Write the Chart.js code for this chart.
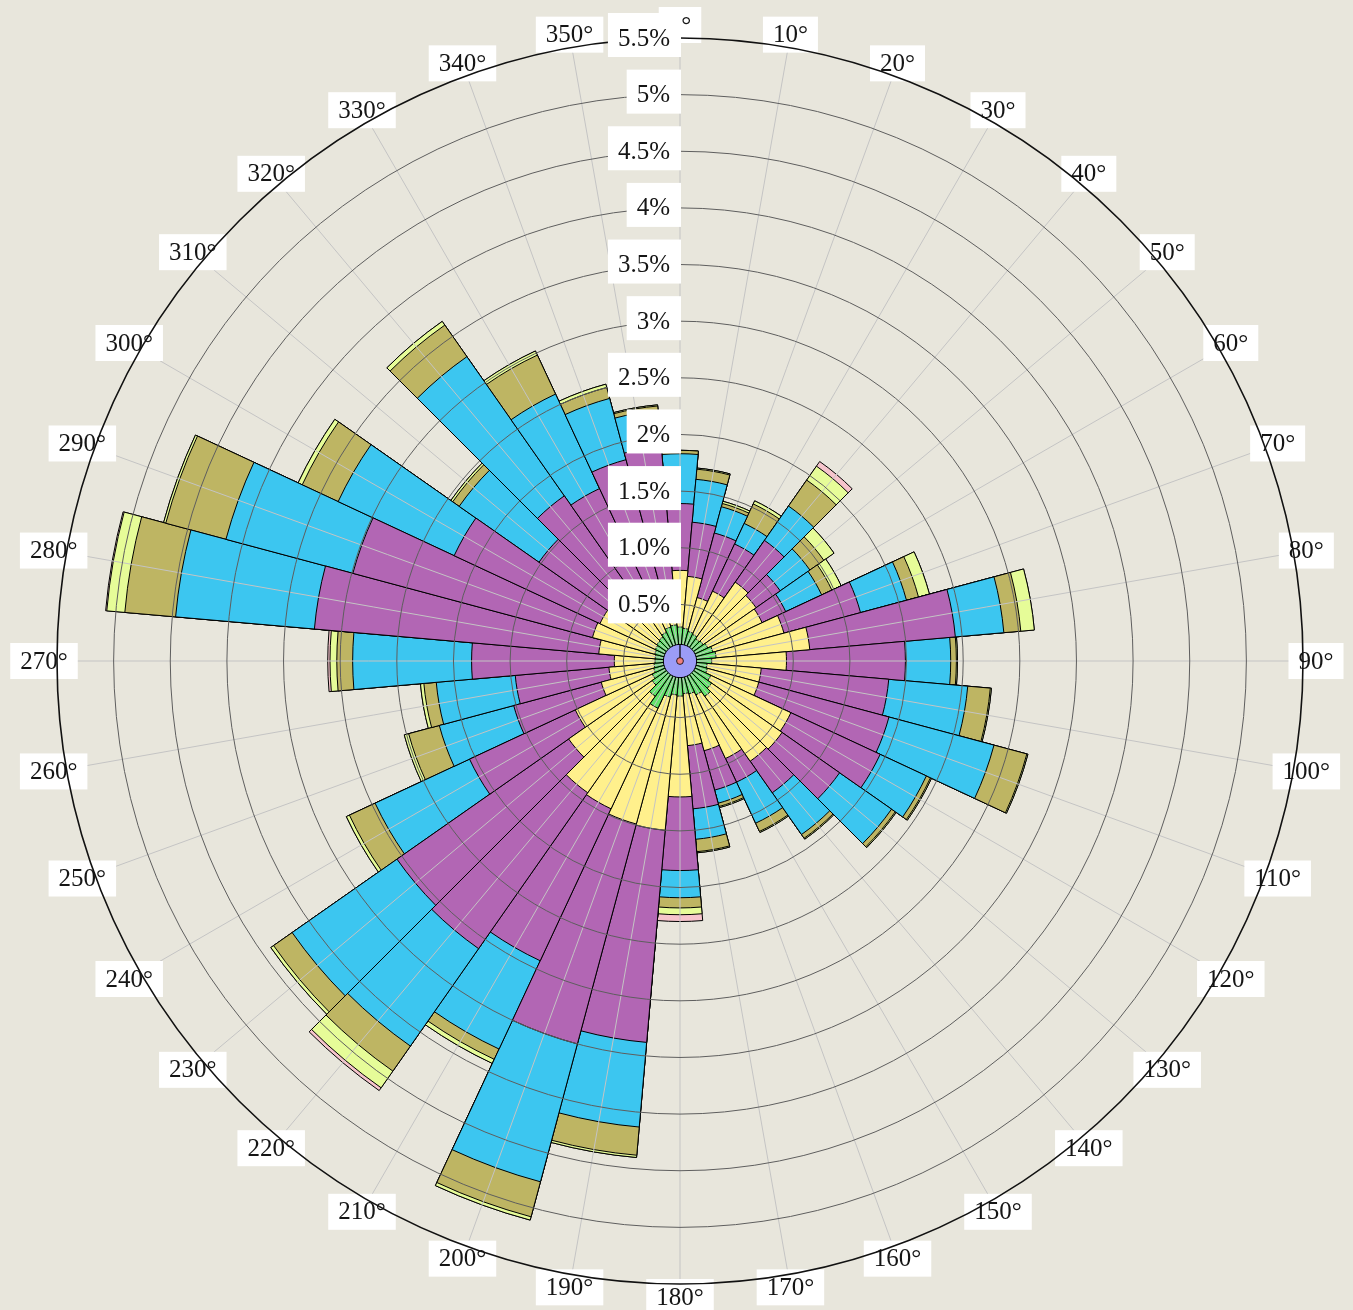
<!DOCTYPE html>
<html>
<head>
<meta charset="utf-8">
<title>Wind rose</title>
<script src="https://cdn.jsdelivr.net/npm/chart.js@4.4.1/dist/chart.umd.min.js"></script>
<style>
  html, body { margin: 0; padding: 0; background: #e8e6dc; }
  canvas { display: block; }
</style>
</head>
<body>
<canvas id="rose" width="1353" height="1310"></canvas>
<script>
// direction sectors, 10° wide, centred on these bearings
const directions = [0, 10, 20, 30, 40, 50, 60, 70, 80, 90, 100, 110, 120, 130, 140, 150, 160, 170,
  180, 190, 200, 210, 220, 230, 240, 250, 260, 270, 280, 290, 300, 310, 320, 330, 340, 350];

// frequency (%) per speed class, one value per direction
const speed0 = [0.30, 0.29, 0.27, 0.26, 0.24, 0.25, 0.27, 0.30, 0.32, 0.28, 0.24, 0.25, 0.30, 0.34, 0.38, 0.33, 0.30, 0.29,
  0.31, 0.30, 0.33, 0.46, 0.38, 0.30, 0.27, 0.24, 0.23, 0.22, 0.22, 0.23, 0.24, 0.25, 0.26, 0.28, 0.31, 0.32];
const speed1 = [0.50, 0.46, 0.31, 0.42, 0.61, 0.57, 0.53, 0.65, 0.83, 0.66, 0.48, 0.47, 0.78, 0.76, 0.70, 0.62, 0.52, 0.46,
  0.89, 1.20, 1.16, 0.98, 1.04, 0.90, 0.75, 0.48, 0.40, 0.36, 0.50, 0.57, 0.54, 0.35, 0.24, 0.24, 0.29, 0.38];
const speed2 = [0.59, 0.48, 0.59, 0.46, 0.45, 0.26, 0.23, 0.70, 1.29, 1.05, 1.13, 1.19, 0.87, 0.62, 0.34, 0.23, 0.36, 0.56,
  0.65, 1.88, 2.01, 1.48, 1.68, 1.85, 1.03, 0.80, 0.83, 1.26, 2.52, 2.19, 1.42, 0.92, 1.28, 1.16, 1.24, 1.20];
const speed3 = [0.44, 0.38, 0.24, 0.20, 0.37, 0.32, 0.35, 0.42, 0.43, 0.40, 0.70, 0.96, 0.45, 0.56, 0.45, 0.40, 0.12, 0.27,
  0.24, 0.75, 1.26, 0.86, 1.05, 1.13, 0.92, 0.68, 0.70, 1.05, 1.23, 1.16, 1.13, 0.86, 1.50, 0.92, 0.56, 0.32];
const speed4 = [0.03, 0.09, 0.03, 0.19, 0.28, 0.15, 0.10, 0.11, 0.15, 0.05, 0.20, 0.30, 0.04, 0.04, 0.04, 0.08, 0.03, 0.11,
  0.09, 0.25, 0.32, 0.10, 0.27, 0.20, 0.25, 0.28, 0.11, 0.14, 0.45, 0.55, 0.35, 0.07, 0.34, 0.38, 0.10, 0.04];
const speed5 = [0.00, 0.01, 0.02, 0.03, 0.15, 0.11, 0.09, 0.10, 0.12, 0.01, 0.01, 0.01, 0.01, 0.01, 0.01, 0.01, 0.01, 0.01,
  0.06, 0.02, 0.03, 0.04, 0.18, 0.03, 0.03, 0.04, 0.03, 0.06, 0.16, 0.02, 0.04, 0.02, 0.04, 0.04, 0.03, 0.01];
const speed6 = [0, 0, 0, 0, 0.05, 0, 0, 0, 0, 0, 0, 0, 0, 0, 0, 0, 0, 0,
  0.06, 0, 0, 0, 0.03, 0, 0, 0, 0, 0.02, 0.01, 0, 0, 0, 0, 0, 0, 0];

const speedClasses = ['0-1 m/s', '1-2 m/s', '2-4 m/s', '4-6 m/s', '6-8 m/s', '8-10 m/s', '>10 m/s'];
const speedColors = ['#62e46a', '#fff08c', '#b266b4', '#3cc6f0', '#beb563', '#e6fc98', '#f6c4cc'];
const calmShare = 0.147;

const tickLabels = ['0%', '0.5%', '1.0%', '1.5%', '2%', '2.5%', '3%', '3.5%', '4%', '4.5%', '5%', '5.5%'];

// stack the classes: each ring is drawn from the centre out to the running total,
// the innermost dataset is painted last so it sits on top
const series = [speed0, speed1, speed2, speed3, speed4, speed5, speed6];
const running = directions.map(() => 0);
const datasets = series.map((vals, s) => {
  vals.forEach((v, i) => { running[i] += v; });
  return {
    label: speedClasses[s],
    data: running.map(v => +v.toFixed(3)),
    backgroundColor: speedColors[s],
    borderColor: '#000',
    borderWidth: 1
  };
});

const labelFont = '25px "Liberation Serif", "DejaVu Serif", serif';
const halfSector = Math.PI / 36;

const roseDecor = {
  id: 'roseDecor',
  afterDatasetsDraw(chart) {
    const r = chart.scales.r;
    const ctx = chart.ctx;
    ctx.save();

    // spokes through the middle of each sector
    ctx.strokeStyle = '#c4c4c4';
    ctx.lineWidth = 1;
    directions.forEach((d, i) => {
      const p = r.getPointPosition(i, r.drawingArea, halfSector);
      ctx.beginPath();
      ctx.moveTo(r.xCenter, r.yCenter);
      ctx.lineTo(p.x, p.y);
      ctx.stroke();
    });

    // calm disc
    const rc = r.getDistanceFromCenterForValue(calmShare);
    ctx.beginPath();
    ctx.arc(r.xCenter, r.yCenter, rc, 0, Math.PI * 2);
    ctx.fillStyle = '#9b9cf6';
    ctx.fill();
    ctx.strokeStyle = '#000';
    ctx.lineWidth = 1;
    ctx.stroke();
    ctx.beginPath();
    ctx.moveTo(r.xCenter, r.yCenter);
    ctx.lineTo(r.xCenter, r.yCenter - rc);
    ctx.lineWidth = 1.2;
    ctx.stroke();
    ctx.beginPath();
    ctx.arc(r.xCenter, r.yCenter, 3.4, 0, Math.PI * 2);
    ctx.fillStyle = '#f08080';
    ctx.fill();
    ctx.lineWidth = 0.8;
    ctx.stroke();

    // bearing labels on white boxes
    ctx.font = labelFont;
    ctx.textAlign = 'center';
    ctx.textBaseline = 'middle';
    directions.forEach((d, i) => {
      const text = d + '°';
      const p = r.getPointPosition(i, r.drawingArea + 13, halfSector);
      const w = ctx.measureText(text).width + 20;
      ctx.fillStyle = '#fff';
      ctx.fillRect(p.x - w / 2, p.y - 18, w, 36);
      ctx.fillStyle = '#151515';
      ctx.fillText(text, p.x, p.y + 1);
    });
    ctx.restore();
  },
  afterDraw(chart) {
    // percentage labels up the north spoke, boxes right-aligned on it
    const r = chart.scales.r;
    const ctx = chart.ctx;
    ctx.save();
    ctx.font = labelFont;
    ctx.textAlign = 'right';
    ctx.textBaseline = 'middle';
    r.ticks.forEach(t => {
      if (t.value <= 0) return;
      const y = r.yCenter - r.getDistanceFromCenterForValue(t.value);
      const w = ctx.measureText(t.label).width + 21;
      ctx.fillStyle = '#fff';
      ctx.fillRect(r.xCenter + 1 - w, y - 25, w, 44);
      ctx.fillStyle = '#151515';
      ctx.fillText(t.label, r.xCenter - 10, y + 1);
    });
    ctx.restore();
  }
};

new Chart(document.getElementById('rose'), {
  type: 'polarArea',
  data: { labels: directions.map(String), datasets },
  options: {
    responsive: false,
    animation: false,
    events: [],
    layout: { padding: { left: 57, right: 50, top: 38, bottom: 26 } },
    plugins: { legend: { display: false }, tooltip: { enabled: false } },
    scales: {
      r: {
        min: 0,
        max: 5.5,
        startAngle: -5,
        ticks: {
          display: false,
          stepSize: 0.5,
          callback: (v, i) => tickLabels[i]
        },
        grid: {
          z: 1,
          circular: true,
          color: c => (c.tick && c.tick.value >= 5.5 ? '#111' : '#5e5e5e'),
          lineWidth: c => (c.tick && c.tick.value >= 5.5 ? 1.6 : 1)
        },
        angleLines: { display: false },
        pointLabels: { display: false }
      }
    }
  },
  plugins: [roseDecor]
});
</script>
</body>
</html>
